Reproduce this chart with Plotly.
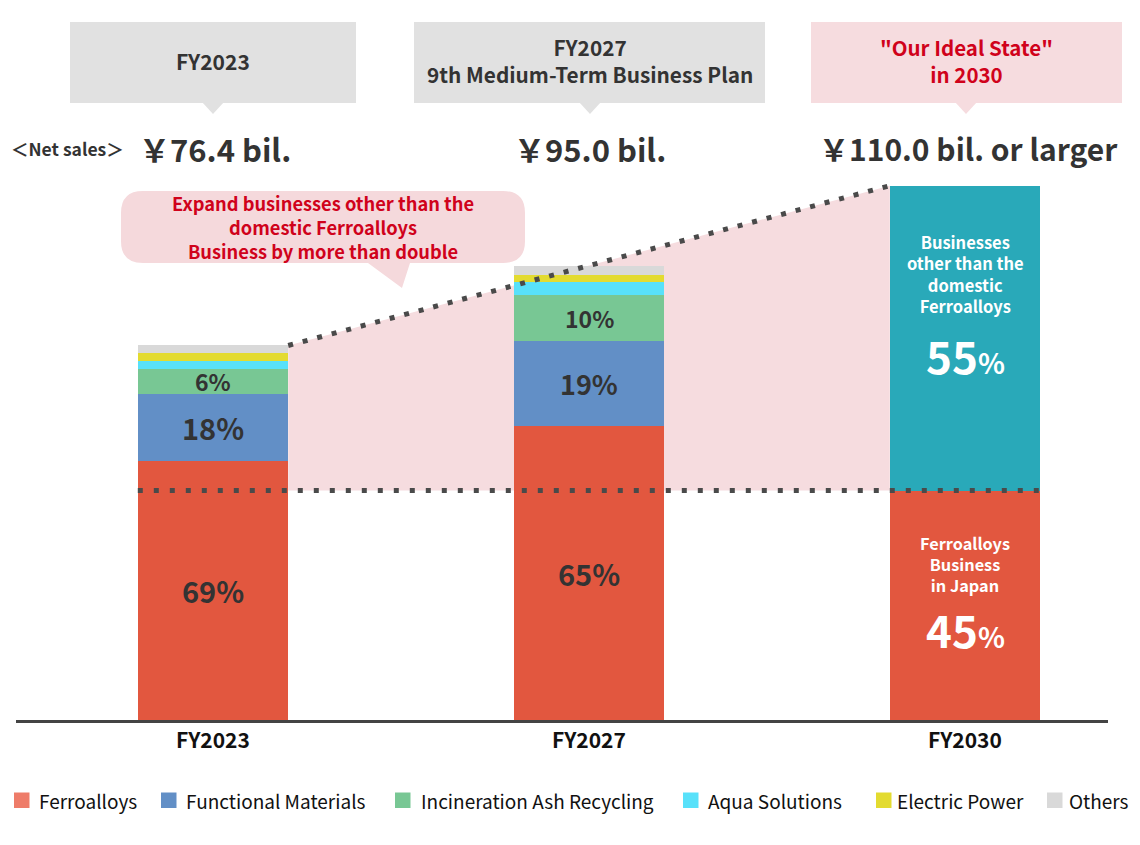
import plotly.graph_objects as go

W, H = 1140, 845

# ---------------- data ----------------
years = ["FY2023", "FY2027", "FY2030"]
ferroalloys = [52.9, 59.9, 46.8]
functional_materials = [13.7, 17.5, None]
incineration_ash = [5.1, 9.4, None]
aqua_solutions = [1.6, 2.6, None]
electric_power = [1.5, 1.4, None]
others = [1.6, 1.8, None]
non_domestic_2030 = [None, None, 62.2]

share_ferro = ["69%", "65%", "45%"]
share_functional = ["18%", "19%", None]
share_incineration = ["6%", "10%", None]
share_non_domestic = "55%"

net_sales = ["￥76.4 bil.", "￥95.0 bil.", "￥110.0 bil. or larger"]
net_sales_title = "＜Net sales＞"
period_titles = ["FY2023", "FY2027<br>9th Medium-Term Business Plan",
                 '"Our Ideal State"<br>in 2030']
callout_text = "Expand businesses other than the<br>domestic Ferroalloys<br>Business by more than double"
non_domestic_caption = "Businesses<br>other than the<br>domestic<br>Ferroalloys"
domestic_caption = "Ferroalloys<br>Business<br>in Japan"
legend_names = ["Ferroalloys", "Functional Materials", "Incineration Ash Recycling",
                "Aqua Solutions", "Electric Power", "Others"]

# ---------------- styles ----------------
FONT = "Noto Sans CJK JP"
C_FERRO = "#E2573F"
C_FUNC = "#628FC6"
C_INCIN = "#78C794"
C_AQUA = "#58E1FA"
C_ELEC = "#E3DB30"
C_OTHER = "#D9D9D9"
C_TEAL = "#29A9B9"
C_PINK = "#F6DCDF"
C_GRAY_BOX = "#E1E1E1"
C_DOT = "#4A4A4A"
C_RED_TXT = "#D0021B"
C_DARK = "#333333"
legend_colors = ["#EE7C69", C_FUNC, C_INCIN, C_AQUA, C_ELEC, C_OTHER]

PX_PER_UNIT = 4.902
BASE_PX = 720
BAR_W = 0.4


def px(x):
    return x / W


def py(y):
    return 1 - y / H


xpos = list(range(len(years)))

fig = go.Figure()
stack = [
    ("Ferroalloys", ferroalloys, C_FERRO),
    ("Functional Materials", functional_materials, C_FUNC),
    ("Incineration Ash Recycling", incineration_ash, C_INCIN),
    ("Aqua Solutions", aqua_solutions, C_AQUA),
    ("Electric Power", electric_power, C_ELEC),
    ("Others", others, C_OTHER),
    ("Businesses other than the domestic Ferroalloys", non_domestic_2030, C_TEAL),
]
for name, vals, col in stack:
    fig.add_trace(go.Bar(x=xpos, y=vals, name=name, width=BAR_W,
                         marker=dict(color=col, line=dict(width=0)),
                         showlegend=False, hoverinfo="skip"))


def val(v):
    return v if v is not None else 0


totals = [sum(val(s[1][i]) for s in stack) for i in xpos]

# ---------------- pink region & dotted lines ----------------
x_left = xpos[0] + BAR_W / 2
x_right = xpos[2] - BAR_W / 2
y_left = totals[0]
y_right = totals[2]
y_base = ferroalloys[2]
shapes = []
shapes.append(dict(type="path", xref="x", yref="y", layer="below",
                   path=f"M{x_left},{y_left} L{x_right},{y_right} L{x_right},{y_base} L{x_left},{y_base} Z",
                   fillcolor=C_PINK, line=dict(width=0)))
shapes.append(dict(type="line", xref="x", yref="y", x0=x_left, y0=y_left, x1=x_right, y1=y_right,
                   line=dict(color=C_DOT, width=5, dash="5px,10px")))
shapes.append(dict(type="line", xref="x", yref="y", x0=xpos[0] - BAR_W / 2, y0=y_base,
                   x1=xpos[2] + BAR_W / 2, y1=y_base,
                   line=dict(color=C_DOT, width=5, dash="5px,11px")))


def P(a, b):
    return f"{px(a):.5f},{py(b):.5f}"


def poly(points):
    return "M" + " L".join(P(a, b) for a, b in points) + " Z"


# ---------------- top boxes ----------------
boxes = [(70, 356, 213, C_GRAY_BOX), (414, 765, 590, C_GRAY_BOX), (811, 1122, 966, C_PINK)]
for x0, x1, xc, col in boxes:
    shapes.append(dict(type="rect", xref="paper", yref="paper", x0=px(x0), x1=px(x1),
                       y0=py(103), y1=py(22), fillcolor=col, line=dict(width=0)))
    shapes.append(dict(type="path", xref="paper", yref="paper",
                       path=poly([(xc - 11, 102), (xc + 11, 102), (xc, 114)]),
                       fillcolor=col, line=dict(width=0)))

# ---------------- callout bubble ----------------
bx0, bx1, by0, by1, r = 121, 525, 191, 263, 22
bubble = (f"M{P(bx0 + r, by0)} L{P(bx1 - r, by0)} Q{P(bx1, by0)} {P(bx1, by0 + r)} "
          f"L{P(bx1, by1 - r)} Q{P(bx1, by1)} {P(bx1 - r, by1)} "
          f"L{P(410, by1)} L{P(402, 288)} L{P(368, by1)} "
          f"L{P(bx0 + r, by1)} Q{P(bx0, by1)} {P(bx0, by1 - r)} "
          f"L{P(bx0, by0 + r)} Q{P(bx0, by0)} {P(bx0 + r, by0)} Z")
shapes.append(dict(type="path", xref="paper", yref="paper", path=bubble,
                   fillcolor="#F5D9DC", line=dict(width=0)))

# ---------------- legend (manual) ----------------
legend_sq_x = [14, 161, 395, 683, 876, 1047]
legend_txt_x = [37, 184, 419, 706, 895, 1067]
for sx, col in zip(legend_sq_x, legend_colors):
    shapes.append(dict(type="rect", xref="paper", yref="paper", x0=px(sx), x1=px(sx + 15.5),
                       y0=py(808), y1=py(792.5), fillcolor=col, line=dict(width=0)))

annotations = []


def text(x, y, s, size, color=C_DARK, bold=True, xanchor="center"):
    annotations.append(dict(x=px(x), y=py(y), xref="paper", yref="paper", text=s,
                            showarrow=False, xanchor=xanchor, yanchor="middle",
                            font=dict(family=FONT, size=size, color=color,
                                      weight="bold" if bold else "normal")))


for name, tx in zip(legend_names, legend_txt_x):
    text(tx, 800, name, 19, color="#111111", bold=False, xanchor="left")

# titles in boxes
text(213, 61, period_titles[0], 21)
text(590, 61, period_titles[1], 20.8)
text(966, 60, period_titles[2], 20.5, color=C_RED_TXT)

# net sales
text(67, 148, net_sales_title, 17.5)
text(215, 148, net_sales[0], 31)
text(590, 148, net_sales[1], 31)
text(968, 148, net_sales[2], 30)

# callout
text(323, 227, callout_text, 18.3, color=C_RED_TXT)


# segment share labels (data coords)
def seg_label(i, base, v, s, size, color=C_DARK):
    annotations.append(dict(x=xpos[i], y=base + v / 2, xref="x", yref="y", text=s,
                            showarrow=False, xanchor="center", yanchor="middle",
                            font=dict(family=FONT, size=size, color=color, weight="bold")))


for i in (0, 1):
    b = 0
    seg_label(i, b, ferroalloys[i], share_ferro[i], 29)
    b += ferroalloys[i]
    seg_label(i, b, functional_materials[i], share_functional[i], 29 if i == 0 else 27)
    b += functional_materials[i]
    seg_label(i, b, incineration_ash[i], share_incineration[i], 23)

# FY2030 captions
text(965, 274, non_domestic_caption, 16.5, color="white")
text(965, 355, share_non_domestic[:-1] + "<span style='font-size:28px'>%</span>", 44, color="white")
text(965, 564, domestic_caption, 16.3, color="white")
text(965, 629, share_ferro[2][:-1] + "<span style='font-size:28px'>%</span>", 44, color="white")

fig.update_layout(
    width=W, height=H, margin=dict(l=0, r=0, t=0, b=0),
    paper_bgcolor="white", plot_bgcolor="rgba(0,0,0,0)",
    barmode="stack", showlegend=False, bargap=0,
    font=dict(family=FONT, color=C_DARK),
    shapes=shapes, annotations=annotations,
    xaxis=dict(domain=[px(16), px(1108)],
               range=[(16 - 213) / 376, 2 + (1108 - 965) / 376],
               tickvals=xpos, ticktext=years, showline=True, linecolor="#444444",
               linewidth=3, ticks="", showgrid=False, zeroline=False,
               tickfont=dict(family=FONT, size=21, color="#111111", weight="bold"),
               fixedrange=True),
    yaxis=dict(domain=[1 - BASE_PX / H, 1], range=[0, BASE_PX / PX_PER_UNIT],
               visible=False, fixedrange=True),
)

fig.write_html("out.html", config={"displayModeBar": False},
               post_script="document.body.style.margin='0';")
